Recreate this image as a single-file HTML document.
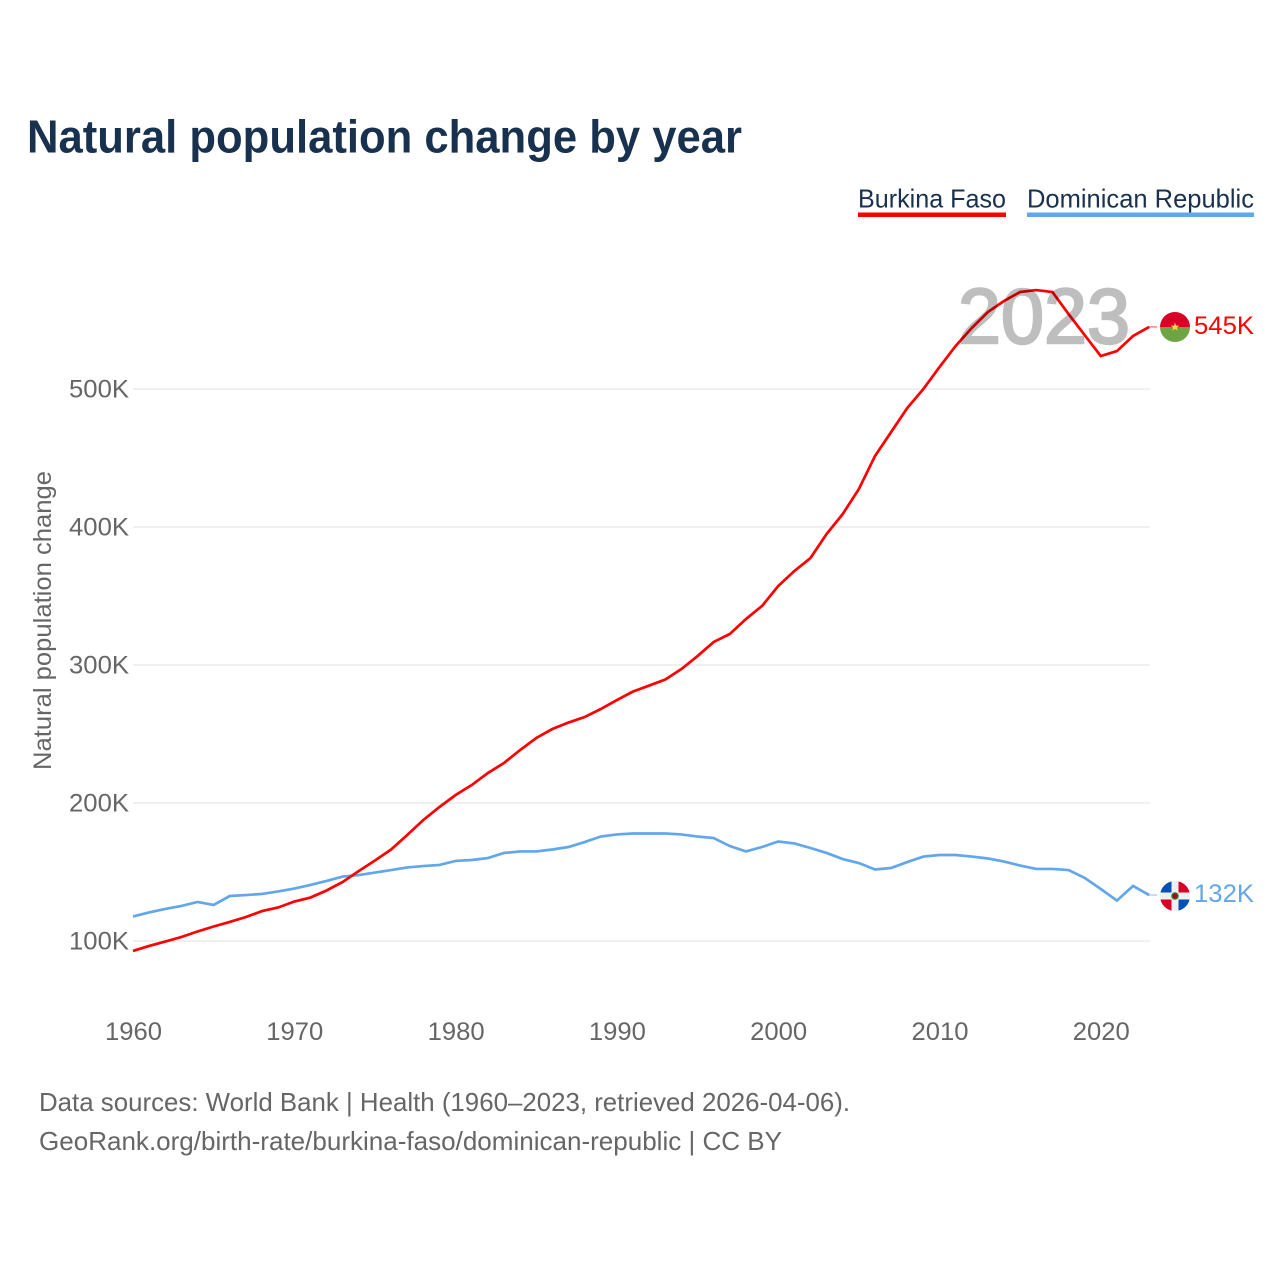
<!DOCTYPE html>
<html>
<head>
<meta charset="utf-8">
<title>Natural population change by year</title>
<style>
html,body{margin:0;padding:0;background:#fff;width:1280px;height:1280px;overflow:hidden}
svg{display:block;font-family:"Liberation Sans",sans-serif}
</style>
</head>
<body>
<svg id="chart" xmlns="http://www.w3.org/2000/svg" width="1280" height="1280" viewBox="0 0 1280 1280">
  <rect x="0" y="0" width="1280" height="1280" fill="#fff"/>
  <text x="27" y="152.5" font-size="46" font-weight="700" fill="#18314f" textLength="715" lengthAdjust="spacingAndGlyphs">Natural population change by year</text>

  <g>
    <text x="858" y="207.5" font-size="26" fill="#18314f" textLength="148" lengthAdjust="spacingAndGlyphs">Burkina Faso</text>
    <rect x="858" y="212.5" width="148" height="4.5" fill="#ff0000"/>
  </g>
  <g>
    <text x="1027" y="207.5" font-size="26" fill="#18314f" textLength="227" lengthAdjust="spacingAndGlyphs">Dominican Republic</text>
    <rect x="1027" y="212.5" width="227" height="4.5" fill="#62a6ec"/>
  </g>

  <text transform="translate(51 770) rotate(-90)" x="0" y="0" font-size="25" fill="#666" textLength="299" lengthAdjust="spacingAndGlyphs">Natural population change</text>

  <g id="grid"></g>
  <g id="xticks"></g>
  <g id="yticks"></g>
  <g id="series"></g>

  <text x="958" y="343" font-size="78" font-weight="400" fill="#000" stroke="#000" stroke-width="2.4" opacity="0.25" textLength="172" lengthAdjust="spacingAndGlyphs">2023</text>

  <defs>
    <clipPath id="clip-bf"><circle cx="1175" cy="327" r="15"/></clipPath>
    <clipPath id="clip-do"><circle cx="1175" cy="896" r="15"/></clipPath>
  </defs>
  <g id="flag-bf" clip-path="url(#clip-bf)">
    <rect x="1160" y="312" width="30" height="15" fill="#d80027"/>
    <rect x="1160" y="327" width="30" height="15" fill="#6da544"/>
    <polygon points="1175,322.5 1176.1,325.6 1179.3,325.6 1176.7,327.6 1177.7,330.7 1175,328.8 1172.3,330.7 1173.3,327.6 1170.7,325.6 1173.9,325.6" fill="#ffda44"/>
  </g>
  <g id="flag-do" clip-path="url(#clip-do)">
    <rect x="1160" y="881" width="30" height="30" fill="#f0f0f0"/>
    <rect x="1160" y="881" width="11.5" height="11.5" fill="#0052b4"/>
    <rect x="1178.5" y="881" width="11.5" height="11.5" fill="#d80027"/>
    <rect x="1160" y="899.5" width="11.5" height="11.5" fill="#d80027"/>
    <rect x="1178.5" y="899.5" width="11.5" height="11.5" fill="#0052b4"/>
    <circle cx="1175" cy="896" r="3.8" fill="#496e2d"/>
    <circle cx="1175" cy="896" r="2.2" fill="#a2001d"/>
  </g>

  <text x="39" y="1111" font-size="26" fill="#666" textLength="811" lengthAdjust="spacingAndGlyphs">Data sources: World Bank | Health (1960–2023, retrieved 2026-04-06).</text>
  <text x="39" y="1150" font-size="26" fill="#666" textLength="743" lengthAdjust="spacingAndGlyphs">GeoRank.org/birth-rate/burkina-faso/dominican-republic | CC BY</text>
</svg>
<script>
const firstYear = 1960;
const xTickYears = [1960, 1970, 1980, 1990, 2000, 2010, 2020];
const yTickValues = [100, 200, 300, 400, 500];
const burkinaFasoValues = [92.8,96.4,99.6,102.9,106.9,110.5,113.8,117.4,121.7,124.3,128.6,131.5,136.6,142.8,150.7,158.3,166.3,176.8,187.7,197.1,205.8,213.0,221.7,229.0,238.4,247.1,253.6,258.3,262.3,268.1,274.6,280.8,285.1,289.5,297.1,306.5,316.7,322.5,333.3,342.8,357.2,368.1,377.5,394.9,409.4,427.5,451.4,468.8,486.2,500.0,515.9,531.2,544.2,555.8,563.8,570.3,571.7,570.3,554.3,539.1,523.9,527.5,538.4,545.0];
const dominicanRepublicValues = [117.8,120.7,123.2,125.4,128.3,126.1,132.6,133.3,134.1,135.9,138.0,140.6,143.5,146.7,147.8,149.6,151.4,153.3,154.3,155.1,158.0,158.7,160.1,163.8,164.9,164.9,166.3,168.1,171.7,175.7,177.2,177.9,177.9,177.9,177.2,175.7,174.6,168.8,164.9,168.1,172.1,170.7,167.4,163.8,159.4,156.5,151.8,152.9,157.2,161.2,162.3,162.3,161.2,159.8,157.6,154.7,152.2,152.2,151.4,145.7,137.7,129.3,139.9,133.3];
const burkinaFasoEndLabel = "545K";
const dominicanRepublicEndLabel = "132K";

const NS = "http://www.w3.org/2000/svg";
const xScale = function (year) { return 133 + (year - 1960) * 16.13; };
const yScale = function (value) { return 941 - (value - 100) * 1.38; };
const make = function (tag, parent) {
  const el = document.createElementNS(NS, tag);
  parent.appendChild(el);
  return el;
};

const gridGroup = document.getElementById("grid");
const xTickGroup = document.getElementById("xticks");
const yTickGroup = document.getElementById("yticks");
const seriesGroup = document.getElementById("series");

yTickValues.forEach(function (v) {
  const line = make("line", gridGroup);
  
  
  line.setAttribute("x1", 133);
  line.setAttribute("x2", 1150);
  line.setAttribute("y1", yScale(v));
  line.setAttribute("y2", yScale(v));
  line.setAttribute("stroke", "#ececec");
  line.setAttribute("stroke-width", 1.5);

  const label = make("text", yTickGroup);
  
  
  label.setAttribute("x", 69);
  label.setAttribute("y", yScale(v) + 8.5);
  label.setAttribute("font-size", 25);
  label.setAttribute("fill", "#666");
  label.setAttribute("textLength", 60);
  label.setAttribute("lengthAdjust", "spacingAndGlyphs");
  label.textContent = v + "K";
});

xTickYears.forEach(function (year) {
  const label = make("text", xTickGroup);
  
  
  label.setAttribute("x", xScale(year) - 28);
  label.setAttribute("y", 1040);
  label.setAttribute("font-size", 25);
  label.setAttribute("fill", "#666");
  label.setAttribute("textLength", 57);
  label.setAttribute("lengthAdjust", "spacingAndGlyphs");
  label.textContent = year;
});

const pathFor = function (values) {
  return values.map(function (v, i) {
    return (i ? "L" : "M") + xScale(firstYear + i).toFixed(2) + " " + yScale(v).toFixed(2);
  }).join(" ");
};

const blueLine = make("path", seriesGroup);


blueLine.setAttribute("d", pathFor(dominicanRepublicValues));
blueLine.setAttribute("fill", "none");
blueLine.setAttribute("stroke", "#62a6ec");
blueLine.setAttribute("stroke-width", 2.7);

const redLine = make("path", seriesGroup);


redLine.setAttribute("d", pathFor(burkinaFasoValues));
redLine.setAttribute("fill", "none");
redLine.setAttribute("stroke", "#ff0000");
redLine.setAttribute("stroke-width", 2.7);

const lastIndex = burkinaFasoValues.length - 1;
const endX = xScale(firstYear + lastIndex);

const redEnd = yScale(burkinaFasoValues[lastIndex]);
const redConnector = make("line", seriesGroup);


redConnector.setAttribute("x1", endX);
redConnector.setAttribute("x2", 1157);
redConnector.setAttribute("y1", redEnd);
redConnector.setAttribute("y2", redEnd);
redConnector.setAttribute("stroke", "#ff0000");
redConnector.setAttribute("stroke-opacity", 0.5);
redConnector.setAttribute("stroke-width", 1.5);

const redLabel = make("text", seriesGroup);


redLabel.setAttribute("x", 1194);
redLabel.setAttribute("y", redEnd + 7);
redLabel.setAttribute("font-size", 25);
redLabel.setAttribute("fill", "#ff0000");
redLabel.setAttribute("textLength", 60);
redLabel.setAttribute("lengthAdjust", "spacingAndGlyphs");
redLabel.textContent = burkinaFasoEndLabel;

const blueEnd = yScale(dominicanRepublicValues[lastIndex]);
const blueConnector = make("line", seriesGroup);


blueConnector.setAttribute("x1", endX);
blueConnector.setAttribute("x2", 1157);
blueConnector.setAttribute("y1", blueEnd);
blueConnector.setAttribute("y2", blueEnd);
blueConnector.setAttribute("stroke", "#62a6ec");
blueConnector.setAttribute("stroke-opacity", 0.5);
blueConnector.setAttribute("stroke-width", 1.5);

const blueLabel = make("text", seriesGroup);


blueLabel.setAttribute("x", 1194);
blueLabel.setAttribute("y", blueEnd + 7);
blueLabel.setAttribute("font-size", 25);
blueLabel.setAttribute("fill", "#62a6ec");
blueLabel.setAttribute("textLength", 60);
blueLabel.setAttribute("lengthAdjust", "spacingAndGlyphs");
blueLabel.textContent = dominicanRepublicEndLabel;
</script>
</body>
</html>
